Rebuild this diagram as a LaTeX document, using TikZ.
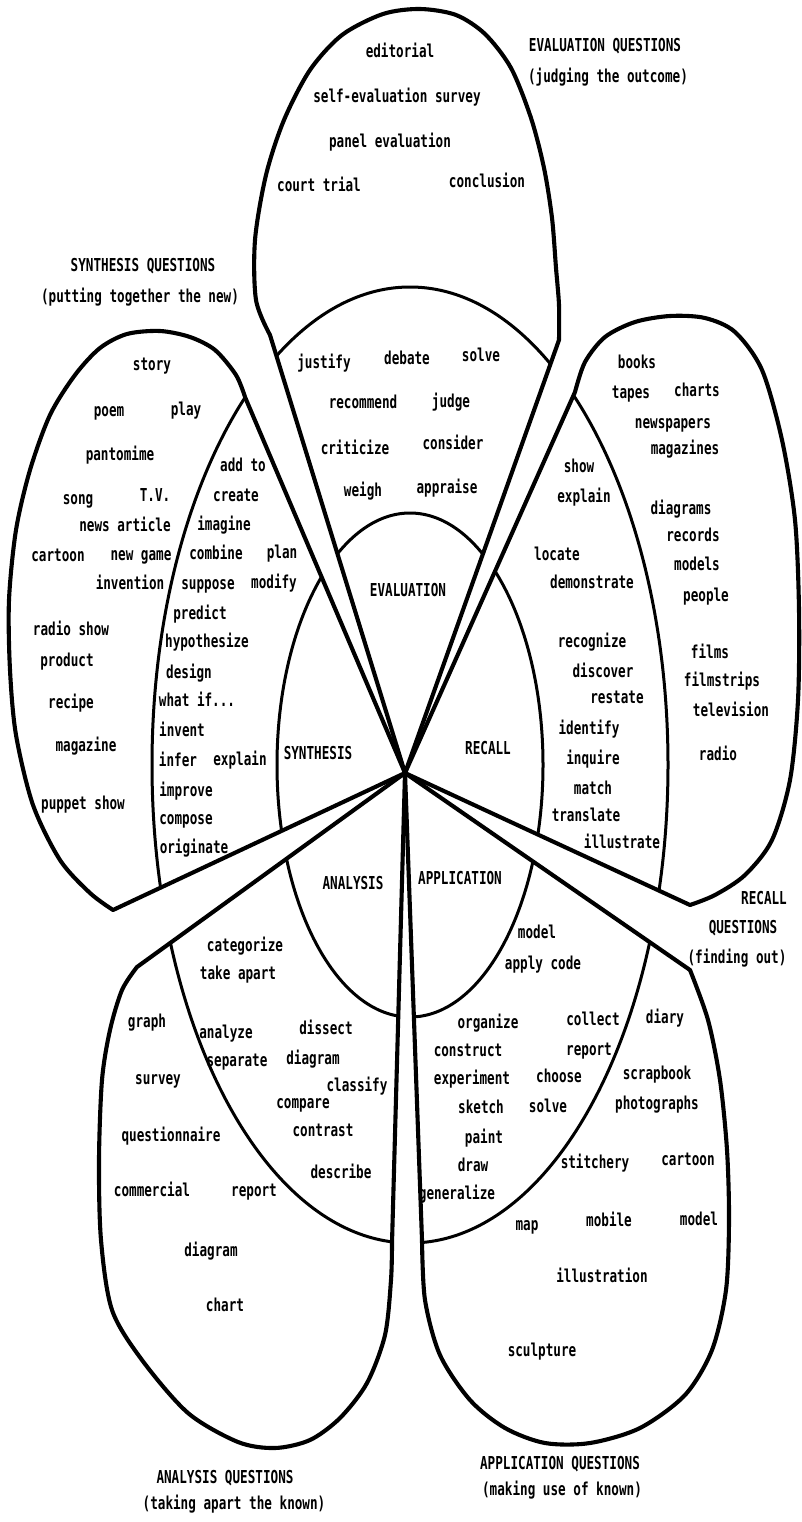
\documentclass[tikz,border=0pt]{standalone}
\usepackage{fontspec}
\newfontfamily\wfont[FakeStretch=0.71]{DejaVu Sans Mono}
\newcommand\drawpetal[1]{%
  \begin{scope}
    \clip (C) -- plot[smooth] coordinates {#1} -- cycle;
    \draw[ring] (E) ellipse [x radius=133pt, y radius=252pt];
    \draw[ring] (E) ellipse [x radius=258pt, y radius=478pt];
  \end{scope}
  \draw[petal] (C) -- plot[smooth] coordinates {#1} -- cycle;}
\begin{document}
\begin{tikzpicture}[x=1pt,y=-1pt,
  petal/.style={line width=4.1pt, line join=round, line cap=round},
  ring/.style={line width=3pt},
  w/.style={font=\fontsize{17.8pt}{20pt}\selectfont\wfont\bfseries, inner sep=0pt, text height=12pt, text depth=0pt}]
\fill[white] (0,0) rectangle (801,1522);
\useasboundingbox (0,0) rectangle (801,1522);
\coordinate (C) at (405,773);
\coordinate (E) at (410,765);

% Evaluation petal
\drawpetal{(270,335) (256,300) (255,240) (266,175) (284,120) (310,70) (342,35) (383,14) (420,9) (456,15) (485,34) (511,68) (531,118) (544,168) (552,218) (556,268) (559,305) (559,340)}
% Synthesis petal
\drawpetal{(245,397) (236,375) (215,350) (190,337) (160,331) (127,334) (100,348) (75,375) (50,415) (30,470) (16,530) (9,600) (10,670) (16,735) (33,805) (60,860) (90,893) (113,910)}
% Analysis petal
\drawpetal{(137,967) (122,990) (110,1030) (102,1080) (99,1160) (101,1240) (112,1310) (142,1360) (188,1413) (238,1442) (275,1448) (310,1440) (340,1418) (367,1383) (385,1335) (391,1280) (392,1243)}
% Application petal
\drawpetal{(422,1240) (425,1300) (440,1355) (470,1400) (505,1428) (545,1443) (590,1443) (640,1428) (685,1395) (712,1350) (726,1290) (729,1220) (727,1150) (720,1080) (708,1020) (690,970)}
% Recall petal
\drawpetal{(575,392) (585,362) (605,337) (635,322) (670,316) (705,318) (735,332) (762,370) (782,440) (795,520) (799,610) (798,700) (790,780) (772,840) (745,875) (715,895) (690,905)}

% titles
\node[w] (evq1) at (605,46) {EVALUATION QUESTIONS};
\node[w] (evq2) at (608,77) {(judging the outcome)};
\node[w] (syq1) at (143,266) {SYNTHESIS QUESTIONS};
\node[w] (syq2) at (140,296) {(putting together the new)};
\node[w] (req1) at (764,898) {RECALL};
\node[w] (req2) at (743,927) {QUESTIONS};
\node[w] (req3) at (737,957) {(finding out)};
\node[w] (anq1) at (225,1477) {ANALYSIS QUESTIONS};
\node[w] (anq2) at (234,1503) {(taking apart the known)};
\node[w] (apq1) at (560,1463) {APPLICATION QUESTIONS};
\node[w] (apq2) at (562,1489) {(making use of known)};

% evaluation
\node[w] (editorial) at (400,52) {editorial};
\node[w] (selfeval) at (397,97) {self-evaluation survey};
\node[w] (panel) at (390,142) {panel evaluation};
\node[w] (court) at (319,186) {court trial};
\node[w] (conclusion) at (487,182) {conclusion};
\node[w] (justify) at (324,362) {justify};
\node[w] (debate) at (407,358) {debate};
\node[w] (solveE) at (481,355) {solve};
\node[w] (recommend) at (363,402) {recommend};
\node[w] (judge) at (451,401) {judge};
\node[w] (criticize) at (355,448) {criticize};
\node[w] (consider) at (453,443) {consider};
\node[w] (weigh) at (363,490) {weigh};
\node[w] (appraise) at (447,487) {appraise};
\node[w] (EVAL) at (408,590) {EVALUATION};

% synthesis
\node[w] (story) at (152,364) {story};
\node[w] (poem) at (109,410) {poem};
\node[w] (play) at (186,409) {play};
\node[w] (pantomime) at (120,454) {pantomime};
\node[w] (song) at (78,498) {song};
\node[w] (tv) at (155,495) {T.V.};
\node[w] (news) at (125,525) {news article};
\node[w] (cartoonS) at (58,555) {cartoon};
\node[w] (newgame) at (141,554) {new game};
\node[w] (invention) at (130,583) {invention};
\node[w] (radioshow) at (71,629) {radio show};
\node[w] (product) at (67,660) {product};
\node[w] (recipe) at (71,702) {recipe};
\node[w] (magazine) at (86,745) {magazine};
\node[w] (puppet) at (83,803) {puppet show};
\node[w] (addto) at (243,465) {add to};
\node[w] (create) at (236,495) {create};
\node[w] (imagine) at (224,524) {imagine};
\node[w] (combine) at (216,553) {combine};
\node[w] (plan) at (282,552) {plan};
\node[w] (suppose) at (208,583) {suppose};
\node[w] (modify) at (274,582) {modify};
\node[w] (predict) at (200,613) {predict};
\node[w] (hypothesize) at (207,641) {hypothesize};
\node[w] (design) at (189,672) {design};
\node[w] (whatif) at (197,700) {what if...};
\node[w] (invent) at (182,730) {invent};
\node[w] (infer) at (178,760) {infer};
\node[w] (explainS) at (240,759) {explain};
\node[w] (improve) at (186,790) {improve};
\node[w] (compose) at (186,818) {compose};
\node[w] (originate) at (194,847) {originate};
\node[w] (SYN) at (318,753) {SYNTHESIS};

% analysis
\node[w] (ANA) at (353,883) {ANALYSIS};
\node[w] (categorize) at (245,945) {categorize};
\node[w] (takeapart) at (238,973) {take apart};
\node[w] (graph) at (147,1021) {graph};
\node[w] (analyze) at (226,1032) {analyze};
\node[w] (dissect) at (326,1028) {dissect};
\node[w] (separate) at (237,1060) {separate};
\node[w] (diagramA) at (313,1058) {diagram};
\node[w] (survey) at (158,1078) {survey};
\node[w] (classify) at (357,1085) {classify};
\node[w] (compare) at (303,1102) {compare};
\node[w] (contrast) at (323,1130) {contrast};
\node[w] (questionnaire) at (171,1135) {questionnaire};
\node[w] (describe) at (341,1172) {describe};
\node[w] (commercial) at (152,1190) {commercial};
\node[w] (reportA) at (254,1190) {report};
\node[w] (diagramB) at (211,1250) {diagram};
\node[w] (chart) at (225,1305) {chart};

% application
\node[w] (APP) at (460,878) {APPLICATION};
\node[w] (modelA) at (537,932) {model};
\node[w] (applycode) at (543,963) {apply code};
\node[w] (organize) at (488,1022) {organize};
\node[w] (collect) at (593,1019) {collect};
\node[w] (diary) at (665,1017) {diary};
\node[w] (construct) at (468,1050) {construct};
\node[w] (reportB) at (589,1049) {report};
\node[w] (experiment) at (472,1078) {experiment};
\node[w] (choose) at (559,1076) {choose};
\node[w] (scrapbook) at (657,1073) {scrapbook};
\node[w] (sketch) at (481,1107) {sketch};
\node[w] (solveA) at (548,1106) {solve};
\node[w] (photographs) at (657,1103) {photographs};
\node[w] (paint) at (484,1137) {paint};
\node[w] (draw) at (473,1165) {draw};
\node[w] (stitchery) at (595,1162) {stitchery};
\node[w] (cartoonA) at (688,1159) {cartoon};
\node[w] (generalize) at (457,1193) {generalize};
\node[w] (map) at (527,1224) {map};
\node[w] (mobile) at (609,1220) {mobile};
\node[w] (modelB) at (699,1219) {model};
\node[w] (illustration) at (602,1276) {illustration};
\node[w] (sculpture) at (542,1350) {sculpture};

% recall
\node[w] (REC) at (488,748) {RECALL};
\node[w] (books) at (637,362) {books};
\node[w] (tapes) at (631,392) {tapes};
\node[w] (charts) at (697,390) {charts};
\node[w] (newspapers) at (673,422) {newspapers};
\node[w] (magazines) at (685,448) {magazines};
\node[w] (show) at (579,466) {show};
\node[w] (explainR) at (584,496) {explain};
\node[w] (diagrams) at (681,508) {diagrams};
\node[w] (records) at (693,535) {records};
\node[w] (models) at (697,564) {models};
\node[w] (people) at (706,595) {people};
\node[w] (locate) at (557,554) {locate};
\node[w] (demonstrate) at (592,582) {demonstrate};
\node[w] (recognize) at (592,641) {recognize};
\node[w] (discover) at (603,671) {discover};
\node[w] (restate) at (617,697) {restate};
\node[w] (identify) at (589,728) {identify};
\node[w] (inquire) at (593,758) {inquire};
\node[w] (match) at (593,788) {match};
\node[w] (translate) at (586,815) {translate};
\node[w] (illustrate) at (622,842) {illustrate};
\node[w] (films) at (710,652) {films};
\node[w] (filmstrips) at (722,680) {filmstrips};
\node[w] (television) at (731,710) {television};
\node[w] (radio) at (718,754) {radio};
\end{tikzpicture}
\end{document}
